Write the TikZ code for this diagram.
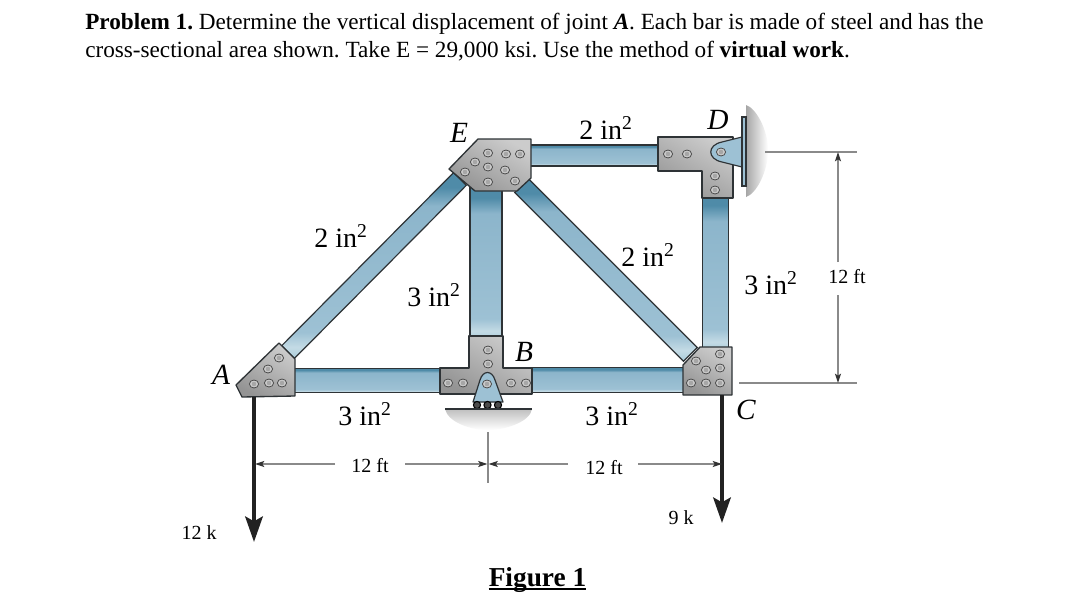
\documentclass[tikz,border=0pt]{standalone}
\usepackage{fontspec}
\setmainfont{Liberation Serif}
\usetikzlibrary{arrows.meta,shadings}
\definecolor{linedk}{HTML}{2E3336}
\definecolor{dimc}{HTML}{8A8A8A}
\definecolor{loadc}{HTML}{222222}
\definecolor{barlo}{HTML}{A9CBDA}
\definecolor{barlt}{HTML}{C4DBE5}
\definecolor{barmd}{HTML}{9DC1D4}
\definecolor{barmd2}{HTML}{8CB5CB}
\definecolor{bardk}{HTML}{4F8BA8}
\pgfdeclareverticalshading{memb}{100bp}{
  color(0bp)=(barlo);
  color(25bp)=(barlo);
  color(28bp)=(barlt);
  color(32bp)=(barmd);
  color(66bp)=(barmd2);
  color(71bp)=(bardk);
  color(75bp)=(bardk);
  color(100bp)=(bardk)}
\tikzset{
  member/.style={draw=linedk,line width=0.9pt,shading=memb,inner sep=0pt,outer sep=0pt,rectangle},
  plate/.style={draw=linedk,line width=1pt,line join=round,top color=black!20,bottom color=black!42,shading angle=-30},
  rivet/.style={draw=black!70,line width=0.6pt,fill=gray!40},
  rivetc/.style={fill=gray!70},
  pinblue/.style={draw=linedk,line width=0.9pt,fill=barmd,line join=round},
  dimline/.style={draw=dimc,line width=0.9pt},
  dimarrow/.style={dimline,-{Stealth[length=7pt,width=4.5pt,inset=1.5pt,color=black!80]}},
  load/.style={draw=loadc,line width=3.3pt,-{Stealth[length=19pt,width=13pt,inset=3.5pt]}},
  bigtxt/.style={font=\fontsize{21}{24}\selectfont,inner sep=0pt},
  ltr/.style={font=\fontsize{22}{24}\selectfont\itshape,inner sep=0pt},
  smalltxt/.style={font=\fontsize{15}{18}\selectfont,inner sep=0pt},
  titletxt/.style={font=\fontsize{17.4}{20}\selectfont\frenchspacing,inner sep=0pt,anchor=base west},
}
\newcommand{\inch}[1]{#1 in\textsuperscript{2}}
\newcommand{\rivets}[1]{\foreach \xx/\yy in {#1}{\draw[rivet] (\xx,\yy) ellipse (4.6 and 4); \fill[rivetc] (\xx,\yy) circle (2.3);}}
\begin{document}
\begin{tikzpicture}[x=0.75pt,y=-0.75pt]
\useasboundingbox (0,0) rectangle (1074,607);
\fill[white] (0,0) rectangle (1074,607);
% title
\node[titletxt] (t1) at (85,29) {\textbf{Problem 1.} Determine the vertical displacement of joint \textbf{\textit{A}}. Each bar is made of steel and has the};
\node[titletxt] (t2) at (85,57) {cross-sectional area shown. Take E = 29,000 ksi. Use the method of \textbf{virtual work}.};
% shadows
\shade[left color=gray!70,right color=white] (746,105) .. controls (756,108) and (768,130) .. (768,150) .. controls (768,172) and (756,194) .. (746,197) -- cycle;
\shade[top color=gray!50,bottom color=white] (445,409) -- (532,409) .. controls (530,422) and (505,430) .. (488,430) .. controls (470,430) and (448,422) .. (445,409) -- cycle;
% members
\node[member,minimum width=116pt,minimum height=18.5pt] (ab) at (367,380.5) {};
\node[member,minimum width=121pt,minimum height=18.5pt] (bc) at (608,380) {};
\node[member,minimum width=116pt,minimum height=24pt,rotate=-90] (eb) at (486,263) {};
\node[member,minimum width=103pt,minimum height=15.75pt] (ed) at (594,155.5) {};
\node[member,minimum width=119pt,minimum height=20pt,rotate=-90] (dc) at (715.5,272) {};
\node[member,minimum width=183pt,minimum height=13.5pt,rotate=-134.8] (ae) at (374,265.5) {};
\node[member,minimum width=179pt,minimum height=14.5pt,rotate=-45] (ec) at (606,270) {};
% plates
\draw[plate] (236,385) -- (279,343) -- (295,359) -- (295,396) -- (242,397) -- cycle;
\draw[plate] (440,368) -- (469,368) -- (469,336) -- (503,336) -- (503,368) -- (532,368) -- (532,394) -- (440,394) -- cycle;
\draw[plate] (478,139) -- (531,139) -- (531,178) -- (517,191) -- (475,191) -- (449,169) -- cycle;
\draw[plate] (658,137) -- (733,137) -- (733,198) -- (702,198) -- (702,171) -- (658,171) -- cycle;
\draw[plate] (700,347) -- (732,347) -- (732,395) -- (683,395) -- (683,365) -- cycle;
% rivets
\rivets{279/358,268/369,254/384,269/383,282/383,
 488/350,488/364,448/383,463/383,511/383,526/383,
 488/153,506/154,520/154,475/162,488/167,505/170,465/172,488/182,515/181,
 668/154,687/154,715/176,715/190,
 720/354,696/361,706/370,720/368,691/383,706/383,720/383}
% roller support at B
\draw[pinblue] (473,402) -- (480,380) .. controls (483,370) and (492,370) .. (495,380) -- (503,402) -- cycle;
\foreach \xx in {477,487.5,498}{\draw[line width=0.8pt,draw=black,fill=gray!60!black] (\xx,405) circle (3.6);}
\draw[line width=1pt,draw=linedk] (445,409) -- (532,409);
\rivets{487/384}
% pin support at D
\draw[pinblue] (742,137) -- (722,142) .. controls (707,145) and (707,159) .. (722,162) -- (742,167) -- cycle;
\draw[draw=linedk,line width=0.8pt,fill=barmd] (742,117) rectangle (746,186);
\rivets{721/152}
% loads
\coordinate (la0) at (254,397); \coordinate (la1) at (254,542);
\coordinate (lc0) at (722,395); \coordinate (lc1) at (722,523);
\draw[load] (la0) -- (la1);
\draw[load] (lc0) -- (lc1);
% dimensions
\coordinate (h0) at (255,464); \coordinate (h0a) at (335,464); \coordinate (h1a) at (405,464);
\coordinate (h1) at (487.5,464); \coordinate (h1b) at (488.5,464); \coordinate (h2a) at (568,464); \coordinate (h3a) at (638,464); \coordinate (h3) at (722,464);
\coordinate (tk0) at (488,432); \coordinate (tk1) at (488,483);
\draw[dimline] (tk0) -- (tk1);
\draw[dimarrow] (h0a) -- (h0);
\draw[dimarrow] (h1a) -- (h1);
\draw[dimarrow] (h2a) -- (h1b);
\draw[dimarrow] (h3a) -- (h3);
\coordinate (v0) at (838,152); \coordinate (v0a) at (838,262); \coordinate (v1a) at (838,295); \coordinate (v1) at (838,383);
\coordinate (e0) at (765,152); \coordinate (e0b) at (857,152); \coordinate (e1) at (739,383); \coordinate (e1b) at (857,383);
\draw[dimline] (e0) -- (e0b);
\draw[dimline] (e1) -- (e1b);
\draw[dimarrow] (v0a) -- (v0);
\draw[dimarrow] (v1a) -- (v1);
% labels
\node[ltr] (lE) at (459,133) {E};
\node[ltr] (lD) at (718,120) {D};
\node[ltr] (lA) at (221,375) {A};
\node[ltr] (lB) at (524,352) {B};
\node[ltr] (lC) at (746,410) {C};
\node[bigtxt] (a1) at (606,128) {\inch{2}};
\node[bigtxt] (a2) at (341,236) {\inch{2}};
\node[bigtxt] (a3) at (648,255) {\inch{2}};
\node[bigtxt] (a4) at (434,295) {\inch{3}};
\node[bigtxt] (a5) at (771,283) {\inch{3}};
\node[bigtxt] (a6) at (365,414) {\inch{3}};
\node[bigtxt] (a7) at (612,414) {\inch{3}};
\node[smalltxt] (d1) at (370,466) {12 ft};
\node[smalltxt] (d2) at (604,468) {12 ft};
\node[smalltxt] (d3) at (847,277) {12 ft};
\node[smalltxt] (f1) at (199,533) {12 k};
\node[smalltxt] (f2) at (681,518) {9 k};
\node[font=\fontsize{20.5}{24}\selectfont\bfseries,inner sep=0pt,anchor=base] (fig) at (537.5,586) {Figure 1};
\draw[line width=1.9pt,black] ([yshift=-2.3pt]fig.base west) -- ([yshift=-2.3pt]fig.base east);
\end{tikzpicture}
\end{document}
